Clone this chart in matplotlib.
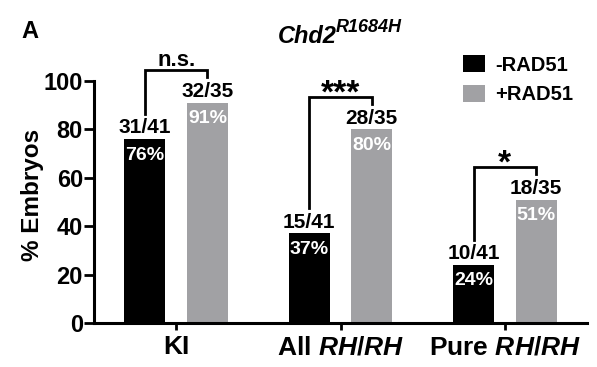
import numpy as np
import matplotlib
matplotlib.use("Agg")
import matplotlib.pyplot as plt

plt.rcParams['font.family'] = ['Liberation Sans', 'DejaVu Sans']
plt.rcParams['font.weight'] = 'bold'
plt.rcParams['mathtext.fontset'] = 'custom'
plt.rcParams['mathtext.rm'] = 'Liberation Sans:bold'
plt.rcParams['mathtext.it'] = 'Liberation Sans:bold:italic'
plt.rcParams['mathtext.bf'] = 'Liberation Sans:bold'

# ---- data ----
categories = ['KI', r'All $\mathit{RH/RH}$', r'Pure $\mathit{RH/RH}$']
minus_rad51 = [76, 37, 24]
plus_rad51 = [91, 80, 51]
minus_counts = ['31/41', '15/41', '10/41']
plus_counts = ['32/35', '28/35', '18/35']
significance = ['n.s.', '***', '*']
series_labels = ['-RAD51', '+RAD51']
yticks = [0, 20, 40, 60, 80, 100]

W, H = 597, 367
fig = plt.figure(figsize=(W / 100, H / 100), dpi=100)
ax = fig.add_axes([94 / W, 44 / H, 493 / W, 242 / H])

gray = '#a1a1a4'
x = np.arange(len(categories))
off, bw = 0.19, 0.25
b1 = ax.bar(x - off, minus_rad51, bw, color='black', label=series_labels[0], zorder=2)
b2 = ax.bar(x + off, plus_rad51, bw, color=gray, label=series_labels[1], zorder=2)

ax.set_xlim(-0.5, 2.5)
ax.set_ylim(0, 100)
ax.set_yticks(yticks)
ax.set_xticks(x)
ax.set_xticklabels(categories, fontsize=19, fontweight='bold')
ax.set_yticklabels([str(v) for v in yticks], fontsize=17, fontweight='bold')
for s in ['top', 'right']:
    ax.spines[s].set_visible(False)
for s in ['left', 'bottom']:
    ax.spines[s].set_linewidth(2.2)
ax.tick_params(axis='y', length=7, width=2, pad=1)
ax.tick_params(axis='x', length=5, width=2, pad=4)

# value labels
for i in range(len(categories)):
    for xv, val, cnt in [(x[i] - off, minus_rad51[i], minus_counts[i]),
                         (x[i] + off, plus_rad51[i], plus_counts[i])]:
        ax.text(xv, val + 4.6, cnt, ha='center', va='center', fontsize=15,
                fontweight='bold', color='black', clip_on=False)
        ax.text(xv, val - 6.6, f'{val}%', ha='center', va='center', fontsize=14,
                fontweight='bold', color='white', zorder=3)

# significance brackets
for i in range(len(categories)):
    lb = minus_rad51[i] + 10.5
    rb = plus_rad51[i] + 10.5
    top = max(lb, rb) + 3
    xl, xr = x[i] - off, x[i] + off
    ax.plot([xl, xl, xr, xr], [lb, top, top, rb], color='black', lw=2,
            clip_on=False, solid_joinstyle='miter', zorder=3)
    lab = significance[i]
    if '*' in lab:
        ax.text(x[i], top - 2.5, lab, ha='center', va='baseline', fontsize=24,
                fontweight='bold', clip_on=False)
    else:
        ax.text(x[i], top + 1.8, lab, ha='center', va='baseline', fontsize=16,
                fontweight='bold', clip_on=False)

# legend
ax.legend(handles=[b1, b2], loc='upper left',
          bbox_to_anchor=(463 / W, 1 - 55 / H), bbox_transform=fig.transFigure,
          frameon=False, borderpad=0, borderaxespad=0, handlelength=1.1,
          handleheight=0.95, handletextpad=0.5, labelspacing=0.5,
          prop={'size': 14.5, 'weight': 'bold'})

# titles and labels
fig.text(278 / W, 1 - 43 / H, 'Chd2', fontsize=17, fontweight='bold',
         fontstyle='italic', ha='left', va='baseline')
fig.text(336 / W, 1 - 32 / H, 'R1684H', fontsize=13, fontweight='bold',
         fontstyle='italic', ha='left', va='baseline')
fig.text(21 / W, 1 - 38 / H, 'A', fontsize=17, fontweight='bold',
         ha='left', va='baseline')
fig.text(32 / W, 1 - 195 / H, '% Embryos', fontsize=17.5, fontweight='bold',
         rotation=90, ha='center', va='center')

fig.savefig('out.png', dpi=100)
